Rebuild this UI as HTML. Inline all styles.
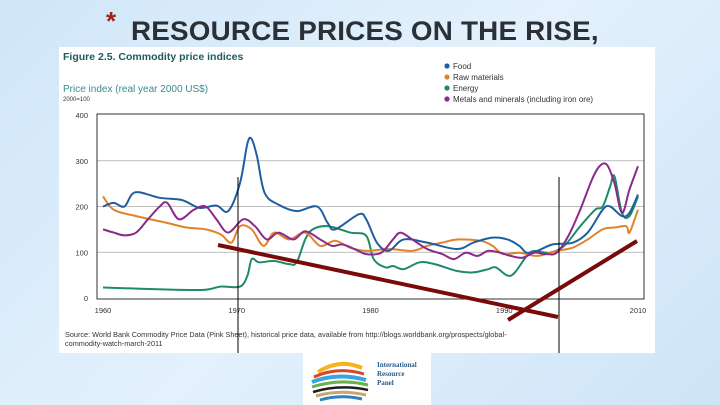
<!DOCTYPE html>
<html><head><meta charset="utf-8"><style>
body{margin:0;width:720px;height:405px;overflow:hidden;background:linear-gradient(135deg,#cfe6f8 0%,#e4f1fc 50%,#cde4f7 100%);font-family:"Liberation Sans",sans-serif;position:relative}
.abs{position:absolute;white-space:nowrap}
</style></head><body>
<div class="abs" style="left:106px;top:6px;font-size:26px;color:#a02020;font-weight:bold">*</div>
<div class="abs" style="left:131px;top:16px;font-size:27px;font-weight:900;color:#2b2f36;letter-spacing:0.2px;transform:scaleX(1.03);transform-origin:left">RESOURCE PRICES ON THE RISE,</div>
<div class="abs" style="left:59px;top:47px;width:596px;height:306px;background:#fff"></div>
<div class="abs" style="left:303px;top:353px;width:128px;height:52px;background:#fff"></div>
<svg id="chart" width="720" height="405" style="position:absolute;left:0;top:0">
<text x="63" y="60" font-size="10.5" font-weight="bold" fill="#1e5a5e" font-family="Liberation Sans">Figure 2.5. Commodity price indices</text>
<text x="63" y="92" font-size="10" fill="#3a8a8c" font-family="Liberation Sans">Price index (real year 2000 US$)</text>
<text x="63" y="101" font-size="6" fill="#333" font-family="Liberation Sans">2000=100</text>
<text x="65" y="337" font-size="7.3" fill="#333" font-family="Liberation Sans">Source: World Bank Commodity Price Data (Pink Sheet), historical price data, available from http://blogs.worldbank.org/prospects/global-</text>
<text x="65" y="346" font-size="7.3" fill="#333" font-family="Liberation Sans">commodity-watch-march-2011</text>
<g id="legend"></g>
<g id="grid"></g>
<g id="series"></g>
<rect x="97" y="114" width="547" height="185" fill="none" stroke="#000" stroke-width="0.8"/>
<line x1="238" y1="177" x2="238" y2="353" stroke="#000" stroke-width="1"/>
<line x1="559" y1="177" x2="559" y2="353" stroke="#000" stroke-width="1"/>
<line x1="218" y1="245" x2="558" y2="317" stroke="#7a0a0a" stroke-width="4"/>
<line x1="508" y1="320" x2="637" y2="241" stroke="#7a0a0a" stroke-width="4"/>
<g>
<path d="M318 372 Q340 358 362 368" stroke="#f2b51c" stroke-width="4" fill="none"/>
<path d="M314 377 Q338 366 364 374" stroke="#d9452b" stroke-width="3" fill="none"/>
<path d="M312 382 Q338 372 366 380" stroke="#3aa5d8" stroke-width="4" fill="none"/>
<path d="M312 387 Q340 378 368 385" stroke="#6ab04c" stroke-width="3" fill="none"/>
<path d="M313 392 Q340 384 368 390" stroke="#1d1d1d" stroke-width="2.5" fill="none"/>
<path d="M316 396 Q340 389 366 395" stroke="#c9a66b" stroke-width="3" fill="none"/>
<path d="M320 400 Q340 394 362 399" stroke="#2f7fc1" stroke-width="3" fill="none"/>
</g>
<text x="377" y="367" font-size="7" font-weight="bold" fill="#2a5a8a" font-family="Liberation Serif">International</text>
<text x="377" y="376" font-size="7" font-weight="bold" fill="#2a5a8a" font-family="Liberation Serif">Resource</text>
<text x="377" y="385" font-size="7" font-weight="bold" fill="#2a5a8a" font-family="Liberation Serif">Panel</text>
</svg>
<script>
const yTicks=[0,100,200,300,400];
const xTickLabels=["1960","1970","1980","1990","2010"];
const seriesNames=["Food","Raw materials","Energy","Metals and minerals (including iron ore)"];
const seriesColors=["#1f5fa0","#e0832a","#1f8a6a","#8a2a8a"];
const foodYears=[1960,1961,1962,1963,1965.3,1967.4,1969,1970.6,1971.7,1972.8,1973.5,1973.9,1974.4,1975.1,1976.4,1978.1,1980,1981,1981.7,1983.9,1984.6,1985.6,1986.7,1988.1,1990.3,1993.1,1994.6,1996.4,1997.8,1998.9,1999.6,2000.6,2002,2003.9,2005.3,2006.7,2007.4,2008.5,2009.2,2010];
const foodValues=[200,208,200,231,219,214,197,202,190,251,338,347,309,230,204,190,200,164,150,183,172,121,103,128,121,107,121,132,128,114,99,103,117,121,143,193,200,179,186,226];
const rawYears=[1960,1961,1963.1,1966,1967.8,1969.6,1971,1972,1972.8,1973.9,1975,1976,1977.4,1978.9,1980.3,1981.7,1983.1,1984.6,1986.7,1988.9,1990.3,1991.7,1993.1,1995.3,1996.4,1997.4,1998.9,2000.6,2002.4,2003.9,2005.3,2006.7,2007.8,2008.9,2009.2,2010];
const rawValues=[222,193,179,164,154,150,139,121,157,150,114,143,128,143,114,125,110,103,107,103,114,121,128,125,114,96,99,92,103,110,128,150,154,157,143,193];
const energyYears=[1960,1966.7,1969.6,1971,1972.8,1973.5,1973.9,1974.6,1976,1977.4,1978.1,1978.9,1979.6,1981,1983.1,1984.6,1985.3,1986.4,1987.1,1988.1,1989.6,1991,1993.1,1994.6,1996,1996.7,1997.8,1998.5,1999.6,2000.3,2001.7,2003.1,2004.6,2006,2006.7,2007.4,2007.8,2008.5,2009.2,2010];
const energyValues=[23,18,18,25,25,49,85,78,81,74,78,128,150,157,143,136,85,67,70,63,78,74,59,56,63,67,49,56,92,103,99,114,157,193,200,244,266,186,179,222];
const metalYears=[1960,1961,1962,1963.1,1964.2,1965.3,1966,1967.1,1968.5,1969.6,1970.6,1971.7,1973.1,1974.2,1975.3,1976.4,1977.8,1978.9,1980.3,1981.4,1982.4,1983.5,1984.6,1986,1987.1,1987.8,1988.9,1990.3,1991.7,1992.8,1993.9,1995,1996,1997.1,1998.1,1999.2,2000.3,2001.4,2002.4,2003.5,2004.6,2005.7,2006.4,2007.1,2007.8,2008.5,2009.2,2010];
const metalValues=[150,143,137,143,172,200,208,172,193,200,172,143,172,157,128,143,128,146,128,114,117,107,96,99,128,143,128,107,96,85,99,92,103,99,92,88,99,96,99,136,193,259,288,291,251,186,237,288];
const NS="http://www.w3.org/2000/svg";
const X0=103,X1=638,Y0=298,Y1=115;
function xs(yr){return X0+(yr-1960)/50*(X1-X0);}
function ys(v){return Y0-v/400*(Y0-Y1);}
const grid=document.getElementById('grid');
yTicks.forEach(t=>{
  if(t>0&&t<400){const l=document.createElementNS(NS,'line');
  l.setAttribute('x1',97);l.setAttribute('x2',644);l.setAttribute('y1',ys(t));l.setAttribute('y2',ys(t));
  l.setAttribute('stroke','#aaa');l.setAttribute('stroke-width','0.8');
  
  
  grid.appendChild(l);}
  const tx=document.createElementNS(NS,'text');
  tx.setAttribute('x',88);tx.setAttribute('y',ys(t)+3);tx.setAttribute('text-anchor','end');
  tx.setAttribute('font-size','7.5');tx.setAttribute('fill','#333');tx.setAttribute('font-family','Liberation Sans');
  tx.textContent=t;
  
  
  grid.appendChild(tx);
});
xTickLabels.forEach((lab,i)=>{
  const tx=document.createElementNS(NS,'text');
  tx.setAttribute('x',X0+i*(X1-X0)/(xTickLabels.length-1));tx.setAttribute('y',313);tx.setAttribute('text-anchor','middle');
  tx.setAttribute('font-size','7.5');tx.setAttribute('fill','#333');tx.setAttribute('font-family','Liberation Sans');
  tx.textContent=lab;
  
  
  grid.appendChild(tx);
});
function smooth(pts){let d='M'+pts[0][0]+' '+pts[0][1];
  for(let i=0;i<pts.length-1;i++){const p0=pts[i-1]||pts[i],p1=pts[i],p2=pts[i+1],p3=pts[i+2]||p2;
    const c1=[p1[0]+(p2[0]-p0[0])/6,p1[1]+(p2[1]-p0[1])/6],c2=[p2[0]-(p3[0]-p1[0])/6,p2[1]-(p3[1]-p1[1])/6];
    d+=' C'+c1[0]+' '+c1[1]+' '+c2[0]+' '+c2[1]+' '+p2[0]+' '+p2[1];}
  return d;}
const allYears=[foodYears,rawYears,energyYears,metalYears];
const allVals=[foodValues,rawValues,energyValues,metalValues];
const keys=['food','raw-materials','energy','metals'];
const sg=document.getElementById('series');
[2,1,0,3].forEach(k=>{
  const pts=allYears[k].map((y,i)=>[xs(y),ys(allVals[k][i])]);
  const p=document.createElementNS(NS,'path');
  p.setAttribute('d',smooth(pts));p.setAttribute('fill','none');p.setAttribute('stroke',seriesColors[k]);
  p.setAttribute('stroke-width','2');
  
  
  sg.appendChild(p);
});
const lg=document.getElementById('legend');
seriesNames.forEach((n,i)=>{
  const c=document.createElementNS(NS,'circle');
  c.setAttribute('cx',447);c.setAttribute('cy',66+i*11);c.setAttribute('r',2.6);c.setAttribute('fill',seriesColors[i]);
  
  
  lg.appendChild(c);
  const t=document.createElementNS(NS,'text');
  t.setAttribute('x',453);t.setAttribute('y',69+i*11);t.setAttribute('font-size','8');t.setAttribute('fill','#333');t.setAttribute('font-family','Liberation Sans');
  t.textContent=n;
  
  
  lg.appendChild(t);
});
</script>
</body></html>
